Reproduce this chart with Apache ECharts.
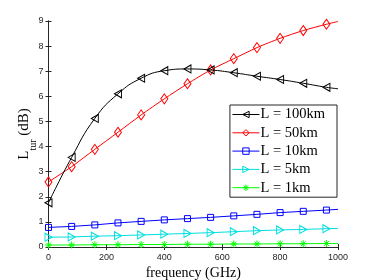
<!DOCTYPE html>
<html><head><meta charset="utf-8">
<script src="https://cdn.jsdelivr.net/npm/echarts@6/dist/echarts.min.js"></script>
<style>html,body{margin:0;padding:0;background:#fff}#c{width:374px;height:280px}</style>
</head><body><div id="c"></div>
<script>
const freq = [0,80,160,240,320,400,480,560,640,720,800,880,960,1000];
const L100 = [1.76,3.57,5.12,6.10,6.72,7.02,7.09,7.05,6.94,6.80,6.67,6.52,6.36,6.30];
const L50  = [2.59,3.20,3.89,4.57,5.26,5.90,6.50,7.05,7.50,7.94,8.31,8.62,8.87,8.98];
const L10  = [0.78,0.82,0.88,0.96,1.02,1.08,1.13,1.18,1.24,1.30,1.37,1.42,1.47,1.50];
const L5   = [0.39,0.40,0.43,0.45,0.48,0.51,0.54,0.57,0.61,0.65,0.68,0.70,0.73,0.74];
const L1   = [0.08,0.08,0.09,0.09,0.10,0.10,0.11,0.11,0.12,0.12,0.13,0.13,0.14,0.14];
const names = ['L = 100km','L = 50km','L = 10km','L = 5km','L = 1km'];
const xTicks = [0,200,400,600,800,1000];
const yTicks = [0,1,2,3,4,5,6,7,8,9];

const star = 'path://M5,0L5,10M0,5L10,5M1.5,1.5L8.5,8.5M1.5,8.5L8.5,1.5';
const specs = [
  {d:L100,c:'#000000',s:'triangle',r:90,sz:[8,7],sm:0.5,fill:'rgba(0,0,0,0)'},
  {d:L50,c:'#ff0000',s:'diamond',r:0,sz:[7,10],sm:0.25,fill:'rgba(0,0,0,0)'},
  {d:L10,c:'#0000ff',s:'rect',r:0,sz:6,sm:0,fill:'rgba(0,0,0,0)'},
  {d:L5,c:'#00dede',s:'triangle',r:-90,sz:[8,7],sm:0,fill:'rgba(0,0,0,0)'},
  {d:L1,c:'#00ff00',s:star,r:0,sz:7,sm:0,fill:'#00ff00'}
];
const series = specs.map((p,i)=>({
  name:names[i], type:'line', smooth:p.sm, symbol:p.s, symbolRotate:p.r, symbolSize:p.sz,
  lineStyle:{color:p.c,width:1},
  itemStyle:{color:p.fill,borderColor:p.c,borderWidth:1},
  data:freq.map((f,j)=> j===freq.length-1 ? {value:[f,p.d[j]],symbol:'none'} : [f,p.d[j]]),
  z:10-i
}));
const legendData = specs.map((p,i)=>({
  name:names[i],
  itemStyle:{color:p.fill,borderColor:p.c,borderWidth:1},
  lineStyle:{color:p.c,width:1}
}));
const axCol = '#262626';
const chart = echarts.init(document.getElementById('c'));
chart.setOption({
  animation:false,
  backgroundColor:'#fff',
  grid:{left:48.5,right:36,top:21,bottom:33,outerBoundsMode:'none',containLabel:false},
  legend:{
    data:legendData, orient:'vertical', right:37, top:105,
    backgroundColor:'#fff', borderColor:axCol, borderWidth:1, borderRadius:0,
    padding:[2,12,2,2], itemWidth:27, itemHeight:8, itemGap:3.3,
    textStyle:{fontFamily:'Liberation Serif',fontSize:14.5,color:'#000',padding:[0,0,0,-4]}
  },
  xAxis:[{
    type:'value', min:0, max:1000, interval:200,
    name:'frequency (GHz)', nameLocation:'middle', nameGap:19, nameMoveOverlap:false,
    nameTextStyle:{fontFamily:'Liberation Serif',fontSize:14,color:'#000'},
    axisLine:{lineStyle:{color:axCol,width:1}},
    axisTick:{inside:true,length:3,lineStyle:{color:axCol}},
    axisLabel:{fontFamily:'Liberation Sans',fontSize:9,color:axCol,margin:6,
      formatter:v=>xTicks.includes(v)?String(v):''},
    splitLine:{show:false}
  },{
    type:'value', min:0, max:1000, interval:200, position:'top',
    axisLine:{lineStyle:{color:axCol,width:1}},
    axisTick:{inside:true,length:3,lineStyle:{color:axCol}},
    axisLabel:{show:false}, splitLine:{show:false}
  }],
  yAxis:[{
    type:'value', min:0, max:9, interval:1,
    name:'{a|L}{b|tur}{a| (dB)}', nameLocation:'middle', nameGap:14, nameRotate:90, nameMoveOverlap:false,
    nameTextStyle:{color:'#000',rich:{
      a:{fontFamily:'Liberation Serif',fontSize:15,color:'#000',lineHeight:18,verticalAlign:'top'},
      b:{fontFamily:'Liberation Serif',fontSize:10,color:'#000',lineHeight:10,verticalAlign:'top',padding:[12,0,0,0]}
    }},
    axisLine:{lineStyle:{color:axCol,width:1}},
    axisTick:{inside:true,length:3,lineStyle:{color:axCol}},
    axisLabel:{fontFamily:'Liberation Sans',fontSize:9,color:axCol,margin:5,
      formatter:v=>yTicks.includes(v)?String(v):''},
    splitLine:{show:false}
  },{
    type:'value', min:0, max:9, interval:1, position:'right',
    axisLine:{show:true,lineStyle:{color:axCol,width:1}},
    axisTick:{show:true,inside:true,length:3,lineStyle:{color:axCol}},
    axisLabel:{show:false}, splitLine:{show:false}
  }],
  series:series
});
</script></body></html>
